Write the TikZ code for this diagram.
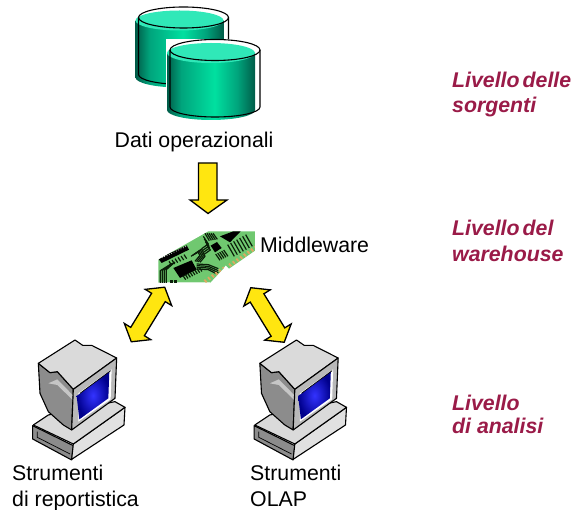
\documentclass[tikz,border=0pt]{standalone}
\usepackage{fontspec}
\setmainfont{Liberation Sans}
\definecolor{livello}{HTML}{9A1B48}
\definecolor{gtop}{HTML}{30E8B8}
\definecolor{gmid}{HTML}{00E0A0}
\definecolor{gdark}{HTML}{005C48}
\definecolor{gside}{HTML}{00A47C}
\definecolor{cardg}{HTML}{70C870}
\definecolor{tracec}{HTML}{0A1E08}
\definecolor{goldc}{HTML}{E0A860}
\definecolor{fgray}{HTML}{DADADA}
\definecolor{sgray}{HTML}{8C8C8C}
\definecolor{arrowy}{HTML}{FFE610}
\newcommand{\tightsp}[1]{{\spaceskip 0.14em\relax #1}}
\pgfdeclarehorizontalshading{cylg}{100bp}{color(0bp)=(gdark); color(25bp)=(gdark); color(33bp)=(gside); color(52bp)=(gmid); color(65bp)=(gside); color(75bp)=(gdark); color(100bp)=(gdark)}
\tikzset{
  lab/.style={anchor=base west,inner sep=0pt,font=\fontsize{21.3}{24}\selectfont},
  lev/.style={anchor=base west,inner sep=0pt,font=\fontsize{21.3}{24}\selectfont\bfseries\itshape,text=livello},
  blockarrow/.style={draw=black,line width=1.3pt,fill=arrowy,line join=miter},
  pcline/.style={draw=black,line width=1.1pt,line join=round},
  tr/.style={draw=tracec,line width=1.2pt,line join=round},
  pics/cyl/.style={code={
    \fill[white] (-49,-11) rectangle (46,68);
    \shade[shading=cylg] (-48,3) -- (-48,60) arc[start angle=180,end angle=0,x radius=44,y radius=10] -- (40,3) -- cycle;
    \fill[gtop] (-4,3) ellipse[x radius=44,y radius=10];
    \draw[line width=1.1pt,black] (-45,0) -- (-45,57) arc[start angle=180,end angle=0,x radius=45,y radius=10] -- (45,0);
    \draw[line width=1.1pt,black] (0,0) ellipse[x radius=45,y radius=10.5];
  }},
  pics/pc/.style={code={
    \begin{scope}[x=0.3333pt,y=-0.3333pt]
    \path[pcline,fill=sgray] (38,287) -- (160,347) -- (155,390) -- (38,327) -- cycle;
    \draw[black,line width=0.7pt] (52,305) -- (52,322) -- (150,372);
    \path[pcline,fill=fgray!80!white] (160,342) -- (315,232) -- (312,285) -- (155,388) -- cycle;
    \path[pcline,fill=fgray] (40,285) -- (85,255) -- (285,215) -- (315,232) -- (160,342) -- cycle;
    \path[pcline,fill=sgray] (55,100) -- (90,128) -- (112,125) -- (160,178) -- (155,300) -- (130,285) -- (85,245) -- (60,190) -- cycle;
    \fill[fgray!75!sgray] (85,160) -- (112,148) -- (158,195) -- (158,210) -- (112,165) -- cycle;
    \path[pcline,fill=fgray] (55,100) -- (165,30) -- (188,46) -- (215,46) -- (290,84) -- (160,178) -- (112,125) -- (90,128) -- cycle;
    \path[pcline,fill=fgray!85!black] (160,178) -- (290,84) -- (285,205) -- (155,300) -- cycle;
    \fill[white] (175,190) -- (275,118) -- (272,208) -- (175,275) -- cycle;
    \shade[inner color=blue!80!white,outer color=blue!55!black] (170,198) -- (268,125) -- (265,205) -- (178,268) -- cycle;
    \draw[black,line width=0.7pt] (180,190) -- (272,122);
    \end{scope}
  }}
}
\begin{document}
\begin{tikzpicture}[x=1pt,y=-1pt]
\useasboundingbox (0,0) rectangle (581,510);
% databases
\pic at (183.5,17.5) {cyl};
\pic at (215,50) {cyl};
\node[lab] (dati) at (114.5,148) {Dati operazionali};
% down arrow
\draw[blockarrow] (198.5,163) -- (217,163) -- (217,200) -- (227,200) -- (208,213.5) -- (190,200) -- (198.5,200) -- cycle;
% card
\begin{scope}[shift={(155,228)},x=0.3333pt,y=-0.3333pt]
\path[clip] (10,95) -- (160,10) -- (300,10) -- (300,68) -- (222,122) -- (212,112) -- (205,122) -- (165,165) -- (10,165) -- cycle;
\fill[cardg] (0,0) rectangle (310,170);
\draw[white!70!cardg,line width=1pt] (10,164) -- (165,164);
% strip
\fill[black] (10,92) -- (95,52) -- (102,65) -- (20,105) -- cycle;
\foreach \i in {0,...,10} \fill[white] ({22+\i*7},{89-\i*3.3}) circle (1.5);
% chips
\fill[black] (55,120) -- (110,97) -- (125,125) -- (75,150) -- cycle;
\fill[black] (195,25) -- (235,10) -- (257,10) -- (225,43) -- cycle;
\fill[black] (167,53) -- (186,42) -- (200,60) -- (180,73) -- cycle;
% traces upper fan
\foreach \i in {0,...,3} {
  \draw[tr] ({108+\i*5},{85-\i*3}) -- ({128+\i*4},{72-\i*3}) -- ({135+\i*5},{82+\i*1}) -- ({120+\i*5},{100+\i});
  \draw[tr] ({145+\i*3},{25+\i*8}) -- ({160+\i*2},{48+\i*6}) -- ({140+\i*2},{62+\i*6});
}
% traces from big chip to the right
\foreach \i in {0,...,3} \draw[tr] (125,{108+\i*5}) -- (160,{110+\i*5}) -- ({190},{122+\i*6});
% hatch groups
\foreach \i in {0,...,4} \draw[tr] ({150+\i*6},{16+\i*0}) -- ({163+\i*6},{38-\i*1});
\foreach \i in {0,...,4} \draw[tr] ({182+\i*6},{78-\i*3}) -- ({195+\i*6},{97-\i*3});
\foreach \i in {0,...,6} \draw[tr] ({218+\i*9},{50-\i*5}) -- ({238+\i*9},{85-\i*5});
\foreach \i in {0,...,5} \draw[tr] ({50+\i*9},{112-\i*4}) -- ({42+\i*9},{100-\i*4});
\foreach \i in {0,...,7} \draw[tr] ({92+\i*7},{155-\i*3.5}) -- ({84+\i*7},{143-\i*3.5});
% rounded traces at the left
\foreach \i in {0,...,3} \draw[tr] ({16+\i*6},165) -- ({16+\i*6},{128-\i*1}) -- ({48+\i*4},{108-\i*2});
\foreach \i in {0,...,3} \draw[tr] ({48+\i*5},165) -- ({48+\i*5},155);
% contacts
\foreach \i in {0,...,5} \draw[goldc,line width=1.8pt] ({148+\i*11},{155-\i*7.5}) -- ({155+\i*11},{163-\i*7.5});
\foreach \i in {0,...,7} \draw[goldc,line width=1.8pt] ({222+\i*11},{107-\i*7.5}) -- ({229+\i*11},{115-\i*7.5});
\end{scope}
\node[lab] (mw) at (260,253) {Middleware};
% double arrows
\begin{scope}[shift={(148,314.5)},rotate=58.5]
\draw[blockarrow] (-32,0) -- (-20,-15.5) -- (-20,-8) -- (20,-8) -- (20,-15.5) -- (32,0) -- (20,15.5) -- (20,8) -- (-20,8) -- (-20,15.5) -- cycle;
\end{scope}
\begin{scope}[shift={(267.5,315)},rotate=-58.5]
\draw[blockarrow] (-32,0) -- (-20,-15.5) -- (-20,-8) -- (20,-8) -- (20,-15.5) -- (32,0) -- (20,15.5) -- (20,8) -- (-20,8) -- (-20,15.5) -- cycle;
\end{scope}
% computers
\pic at (20,330) {pc};
\pic at (241.5,330) {pc};
\node[lab] (s1) at (12,480) {Strumenti};
\node[lab] (s2) at (12,506) {di reportistica};
\node[lab] (o1) at (250,480) {Strumenti};
\node[lab] (o2) at (250,506) {OLAP};
% levels
\node[lev] (l1a) at (452,88) {\tightsp{Livello delle}};
\node[lev] (l1b) at (452,113) {sorgenti};
\node[lev] (l2a) at (452,236) {\tightsp{Livello del}};
\node[lev] (l2b) at (452,262) {warehouse};
\node[lev] (l3a) at (452,410) {Livello};
\node[lev] (l3b) at (452,434) {di analisi};
\end{tikzpicture}
\end{document}
